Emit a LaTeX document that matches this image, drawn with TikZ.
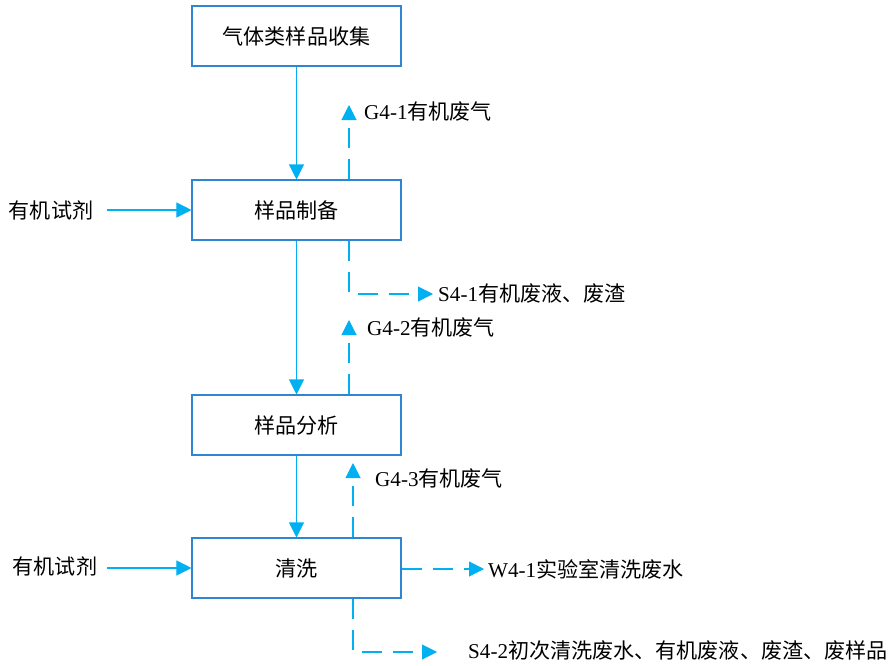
\documentclass[tikz,border=0pt]{standalone}
\usepackage{fontspec}
\setmainfont{Liberation Serif}
\newfontfamily\cjk{Noto Sans CJK SC}
\usetikzlibrary{arrows.meta}
\definecolor{boxblue}{RGB}{46,134,210}
\definecolor{flowcyan}{RGB}{0,176,240}
\tikzset{
    stepbox/.style={draw=boxblue, line width=0.9pt, minimum width=6.27cm, minimum height=1.8cm, font=\fontsize{18pt}{20pt}\selectfont\cjk},
    flow/.style={flowcyan, line width=0.9pt, -{Triangle[length=0.45cm, width=0.45cm]}},
    waste/.style={flow, dash pattern=on 0.6cm off 0.33cm},
    outlbl/.style={anchor=west, inner sep=0pt, font=\fontsize{18pt}{20pt}\selectfont},
    inlbl/.style={inner sep=0pt, font=\fontsize{18pt}{20pt}\selectfont\cjk}
}
\begin{document}
\begin{tikzpicture}[x=0.03cm, y=-0.03cm]
    \useasboundingbox (0,0) rectangle (893,665);

    % Fasi
    \node[stepbox] (collect) at (296.5,36) {气体类样品收集};
    \node[stepbox] (prep) at (296.5,210) {样品制备};
    \node[stepbox] (analysis) at (296.5,425) {样品分析};
    \node[stepbox] (wash) at (296.5,568) {清洗};

    \draw[flow] (collect) -- (prep);
    \draw[flow] (prep) -- (analysis);
    \draw[flow] (analysis) -- (wash);

    % Reagenti
    \node[inlbl] (reag1) at (51,210) {有机试剂};
    \node[inlbl] (reag2) at (55,566) {有机试剂};
    \coordinate (r1) at (107,210);
    \coordinate (r2) at (107,568);
    \draw[flow] (r1) -- (prep.west |- r1);
    \draw[flow] (r2) -- (wash.west |- r2);

    % Scarichi
    \coordinate (g1) at (349,105);
    \coordinate (s1c) at (349,294);
    \coordinate (s1) at (433,294);
    \coordinate (g2) at (349,320);
    \coordinate (g3) at (353,463);
    \coordinate (w1) at (484,569);
    \coordinate (s2c) at (353,652);
    \coordinate (s2) at (437,652);

    \draw[waste] (prep.north -| g1) -- (g1);
    \draw[waste] (prep.south -| s1c) -- (s1c) -- (s1);
    \draw[waste] (analysis.north -| g2) -- (g2);
    \draw[waste] (wash.north -| g3) -- (g3);
    \draw[waste] (wash.east |- w1) -- (w1);
    \draw[waste] (wash.south -| s2c) -- (s2c) -- (s2);

    \node[outlbl] (g1lbl) at (364,112) {G4-1{\cjk 有机废气}};
    \node[outlbl] (s1lbl) at (438,294) {S4-1{\cjk 有机废液、废渣}};
    \node[outlbl] (g2lbl) at (367,328) {G4-2{\cjk 有机废气}};
    \node[outlbl] (g3lbl) at (375,478) {G4-3{\cjk 有机废气}};
    \node[outlbl] (w1lbl) at (488,569) {W4-1{\cjk 实验室清洗废水}};
    \node[outlbl] (s2lbl) at (468,650) {S4-2{\cjk 初次清洗废水、有机废液、废渣、废样品}};
\end{tikzpicture}
\end{document}
